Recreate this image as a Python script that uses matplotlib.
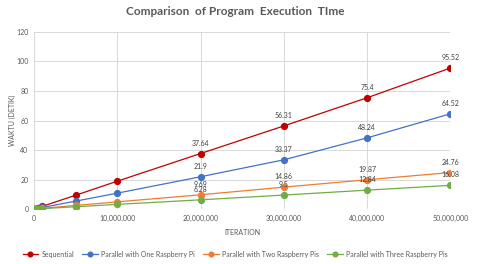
import matplotlib
matplotlib.use("Agg")
import matplotlib.pyplot as plt
from matplotlib.ticker import FuncFormatter, MultipleLocator

# ── Data ──────────────────────────────────────────────────────────────
iterations = [1000, 10000, 100000, 500000, 1000000, 5000000,
              10000000, 20000000, 30000000, 40000000, 50000000]

sequential = [0.002, 0.02, 0.19, 0.95, 1.9, 9.4, 18.9, 37.64, 56.31, 75.4, 95.52]
one_pi = [0.001, 0.012, 0.11, 0.55, 1.1, 5.4, 10.8, 21.9, 33.37, 48.24, 64.52]
two_pi = [0.0005, 0.005, 0.05, 0.25, 0.5, 2.5, 4.9, 9.69, 14.86, 19.87, 24.76]
three_pi = [0.0003, 0.003, 0.03, 0.16, 0.32, 1.6, 3.2, 6.28, 9.5, 12.84, 16.08]

series_names = ["Sequential", "Parallel with One Raspberry Pi",
                "Parallel with Two Raspberry Pis", "Parallel with Three Raspberry Pis"]
colors = ["#C00000", "#4472C4", "#ED7D31", "#70AD47"]

# only the last four points carry a data label
LABEL_FROM = 7

plt.rcParams["font.family"] = ["Lato", "DejaVu Sans"]

fig = plt.figure(figsize=(4.8, 2.64), dpi=100)
ax = fig.add_axes([0.071, 0.208, 0.867, 0.671])

for name, vals, c in zip(series_names, [sequential, one_pi, two_pi, three_pi], colors):
    ax.plot(iterations, vals, color=c, lw=0.9, marker="o", ms=4.2,
            label=name, zorder=3)
    for x, v in zip(iterations[LABEL_FROM:], vals[LABEL_FROM:]):
        ax.annotate(f"{v:g}", (x, v), xytext=(0, 5), textcoords="offset points",
                    ha="center", va="bottom", fontsize=5, color="#404040", zorder=4)

ax.set_xlim(0, 50000000)
ax.set_ylim(0, 120)
ax.xaxis.set_major_locator(MultipleLocator(10000000))
ax.yaxis.set_major_locator(MultipleLocator(20))
ax.xaxis.set_major_formatter(FuncFormatter(lambda v, p: f"{int(v):,}"))
ax.grid(True, color="#D9D9D9", lw=0.7)
ax.set_axisbelow(True)
for s in ax.spines.values():
    s.set_visible(False)
ax.tick_params(length=0, labelsize=5, colors="#595959", pad=4)

ax.set_xlabel("ITERATION", fontsize=5, color="#595959", labelpad=5)
ax.set_ylabel("WAKTU (DETIK)", fontsize=5, color="#595959", labelpad=0)
fig.text(0.49, 0.955, "Comparison  of Program  Execution  TIme", ha="center", va="center",
         fontsize=8.5, fontweight="bold", color="#595959")

fig.legend(loc="lower center", bbox_to_anchor=(0.49, 0.0), ncol=4, frameon=False,
           fontsize=5, labelcolor="#595959", handlelength=2.2, handletextpad=0.5,
           columnspacing=1.2, markerscale=0.8)

fig.savefig("out.png", dpi=100)
